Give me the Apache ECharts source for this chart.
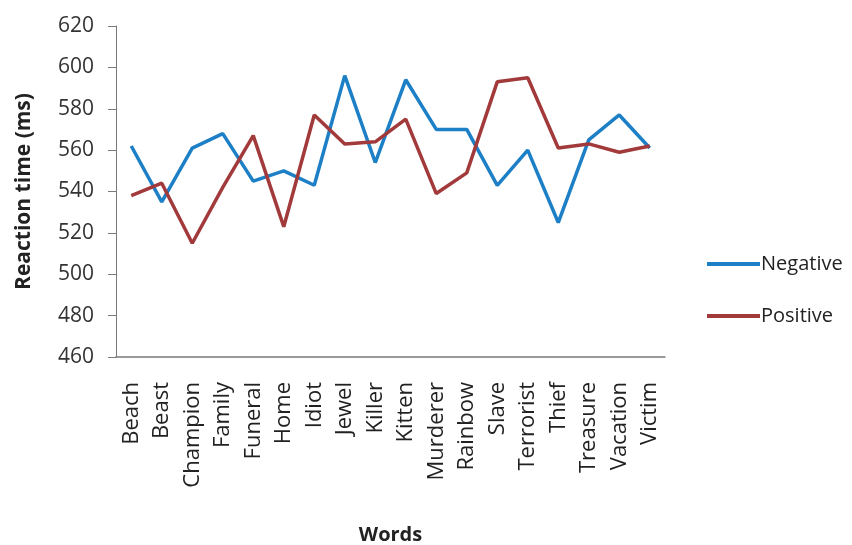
<!DOCTYPE html>
<html>
<head>
<meta charset="utf-8">
<script src="https://cdn.jsdelivr.net/npm/echarts@6/dist/echarts.min.js"></script>
<style>
  html, body { margin: 0; padding: 0; background: #fff; }
  #chart { width: 852px; height: 545px; }
</style>
</head>
<body>
<div id="chart"></div>
<script>
// Mean reaction times per word, by valence condition
const words = ['Beach', 'Beast', 'Champion', 'Family', 'Funeral', 'Home', 'Idiot', 'Jewel', 'Killer',
  'Kitten', 'Murderer', 'Rainbow', 'Slave', 'Terrorist', 'Thief', 'Treasure', 'Vacation', 'Victim'];
const negative = [562, 535, 561, 568, 545, 550, 543, 596, 554, 594, 570, 570, 543, 560, 525, 565, 577, 561];
const positive = [538, 544, 515, 542, 567, 523, 577, 563, 564, 575, 539, 549, 593, 595, 561, 563, 559, 562];
const yTicks = { min: 460, max: 620, step: 20 };

const font = '"Open Sans", sans-serif';
const chart = echarts.init(document.getElementById('chart'), null, { renderer: 'canvas' });

chart.setOption({
  backgroundColor: '#fff',
  animation: false,
  grid: { left: 116, right: 187, top: 26, bottom: 188, containLabel: false, outerBoundsMode: 'none' },
  legend: {
    orient: 'vertical',
    left: 702,
    top: 249,
    itemWidth: 53,
    itemHeight: 4,
    itemGap: 32,
    icon: 'rect',
    textStyle: { fontFamily: font, fontSize: 20, color: '#222', padding: [0, 0, 0, -4] },
    data: ['Negative', 'Positive']
  },
  xAxis: {
    type: 'category',
    data: words,
    boundaryGap: true,
    axisLine: { lineStyle: { color: '#7a7a7a', width: 1.5 } },
    axisTick: { show: false },
    axisLabel: { rotate: 90, interval: 0, margin: 25, fontFamily: font, fontSize: 22, color: '#222' },
    name: 'Words',
    nameLocation: 'middle',
    nameGap: 168,
    nameTextStyle: { fontFamily: font, fontSize: 20, fontWeight: 'bold', color: '#222' }
  },
  yAxis: {
    type: 'value',
    min: yTicks.min,
    max: yTicks.max,
    interval: yTicks.step,
    splitLine: { show: false },
    axisLine: { show: true, lineStyle: { color: '#7a7a7a', width: 1 } },
    axisTick: { show: true, inside: false, length: 8, lineStyle: { color: '#7a7a7a' } },
    axisLabel: { margin: 22, fontFamily: font, fontSize: 21, color: '#333' },
    name: 'Reaction time (ms)',
    nameLocation: 'middle',
    nameGap: 81,
    nameTextStyle: { fontFamily: font, fontSize: 21, fontWeight: 'bold', color: '#222' }
  },
  series: [
    {
      name: 'Negative', type: 'line', data: negative, symbol: 'none',
      lineStyle: { color: '#1d7fc6', width: 3.5 }, itemStyle: { color: '#1d7fc6' }
    },
    {
      name: 'Positive', type: 'line', data: positive, symbol: 'none',
      lineStyle: { color: '#a23a3b', width: 3.5 }, itemStyle: { color: '#a23a3b' }
    }
  ]
});
</script>
</body>
</html>
